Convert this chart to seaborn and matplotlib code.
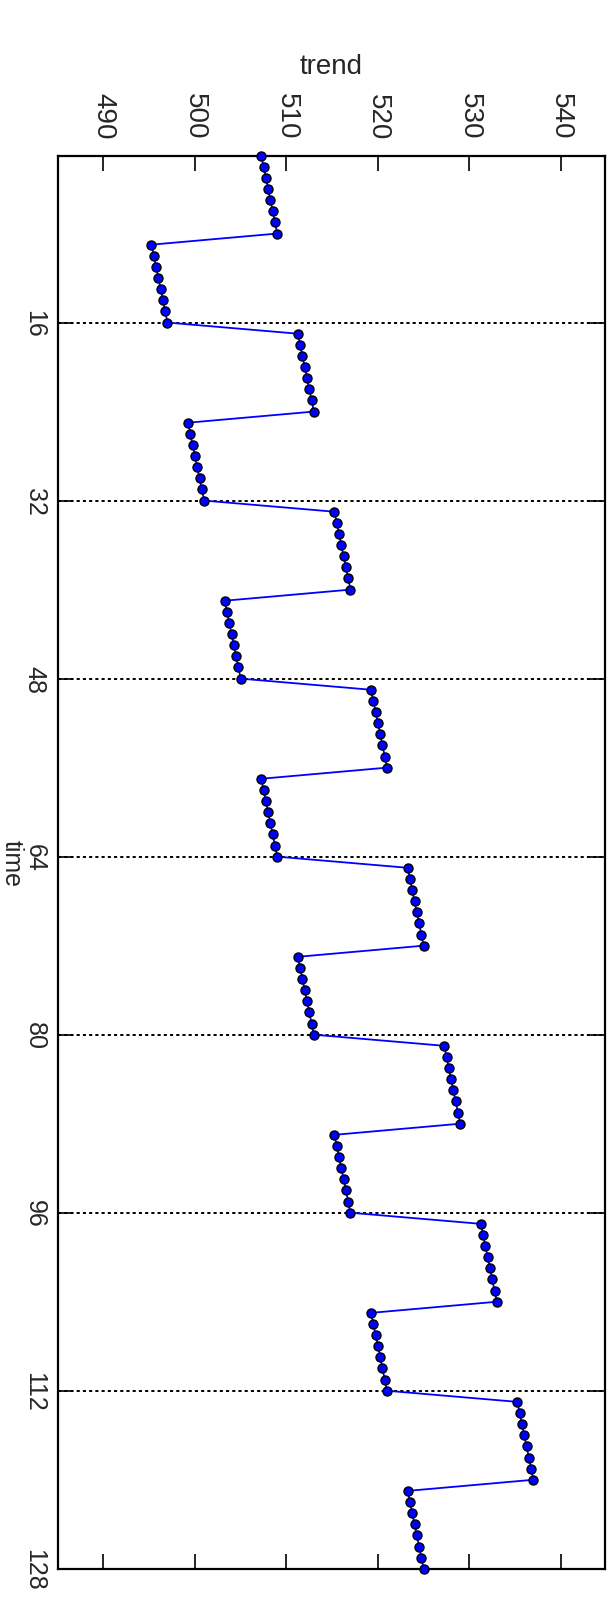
import numpy as np
import matplotlib
matplotlib.use("Agg")
import matplotlib.pyplot as plt
import seaborn as sns

# Trend series, one list per 8-sample block
block_01 = [507.25, 507.50, 507.75, 508.00, 508.25, 508.50, 508.75, 509.00]
block_02 = [495.25, 495.50, 495.75, 496.00, 496.25, 496.50, 496.75, 497.00]
block_03 = [511.25, 511.50, 511.75, 512.00, 512.25, 512.50, 512.75, 513.00]
block_04 = [499.25, 499.50, 499.75, 500.00, 500.25, 500.50, 500.75, 501.00]
block_05 = [515.25, 515.50, 515.75, 516.00, 516.25, 516.50, 516.75, 517.00]
block_06 = [503.25, 503.50, 503.75, 504.00, 504.25, 504.50, 504.75, 505.00]
block_07 = [519.25, 519.50, 519.75, 520.00, 520.25, 520.50, 520.75, 521.00]
block_08 = [507.25, 507.50, 507.75, 508.00, 508.25, 508.50, 508.75, 509.00]
block_09 = [523.25, 523.50, 523.75, 524.00, 524.25, 524.50, 524.75, 525.00]
block_10 = [511.25, 511.50, 511.75, 512.00, 512.25, 512.50, 512.75, 513.00]
block_11 = [527.25, 527.50, 527.75, 528.00, 528.25, 528.50, 528.75, 529.00]
block_12 = [515.25, 515.50, 515.75, 516.00, 516.25, 516.50, 516.75, 517.00]
block_13 = [531.25, 531.50, 531.75, 532.00, 532.25, 532.50, 532.75, 533.00]
block_14 = [519.25, 519.50, 519.75, 520.00, 520.25, 520.50, 520.75, 521.00]
block_15 = [535.25, 535.50, 535.75, 536.00, 536.25, 536.50, 536.75, 537.00]
block_16 = [523.25, 523.50, 523.75, 524.00, 524.25, 524.50, 524.75, 525.00]

blocks = [block_01, block_02, block_03, block_04, block_05, block_06, block_07, block_08,
          block_09, block_10, block_11, block_12, block_13, block_14, block_15, block_16]
trend = [v for b in blocks for v in b]
time = list(range(1, len(trend) + 1))

time_ticks = [16, 32, 48, 64, 80, 96, 112, 128]
period_marks = [16, 32, 48, 64, 80, 96, 112]
trend_ticks = [490, 500, 510, 520, 530, 540]

sns.set_style("white")
plt.rcParams["font.family"] = ["Liberation Sans", "DejaVu Sans"]

fig = plt.figure(figsize=(6.14, 16.15), dpi=100)
ax = fig.add_axes([0.094, 0.028, 0.891, 0.875])

# period boundaries
for t in period_marks:
    ax.axhline(t, color="black", lw=1.4, ls=(0, (1.6, 1.6)), zorder=1)

sns.lineplot(x=trend, y=time, sort=False, estimator=None, orient="y", ax=ax,
             color="#0000ff", lw=1.3, marker="o", markersize=6.5,
             markerfacecolor="#0000ff", markeredgecolor="black",
             markeredgewidth=1.0, zorder=3, clip_on=False)

ax.set_xlim(485, 544.8)
ax.set_ylim(128, 1)

ax.xaxis.set_label_position("top")
ax.xaxis.tick_top()
ax.set_xticks(trend_ticks)
ax.set_xticklabels([str(v) for v in trend_ticks], rotation=-90, fontsize=20)
ax.set_yticks(time_ticks)
ax.set_yticklabels([str(v) for v in time_ticks], rotation=-90, fontsize=18,
                   va="center")
ax.tick_params(axis="both", direction="in", length=11, width=1.2, color="black",
               top=True, bottom=True, left=True, right=True)
ax.tick_params(axis="x", pad=12)
ax.tick_params(axis="y", pad=8)

ax.set_xlabel("trend", fontsize=20, labelpad=14)
ax.set_ylabel("time", fontsize=18, rotation=-90, va="center", ha="center")
ax.yaxis.set_label_coords(-0.084, 0.5)

for s in ax.spines.values():
    s.set_color("black")
    s.set_linewidth(1.6)
    s.set_visible(True)

fig.savefig("out.png", dpi=100, facecolor="white")
